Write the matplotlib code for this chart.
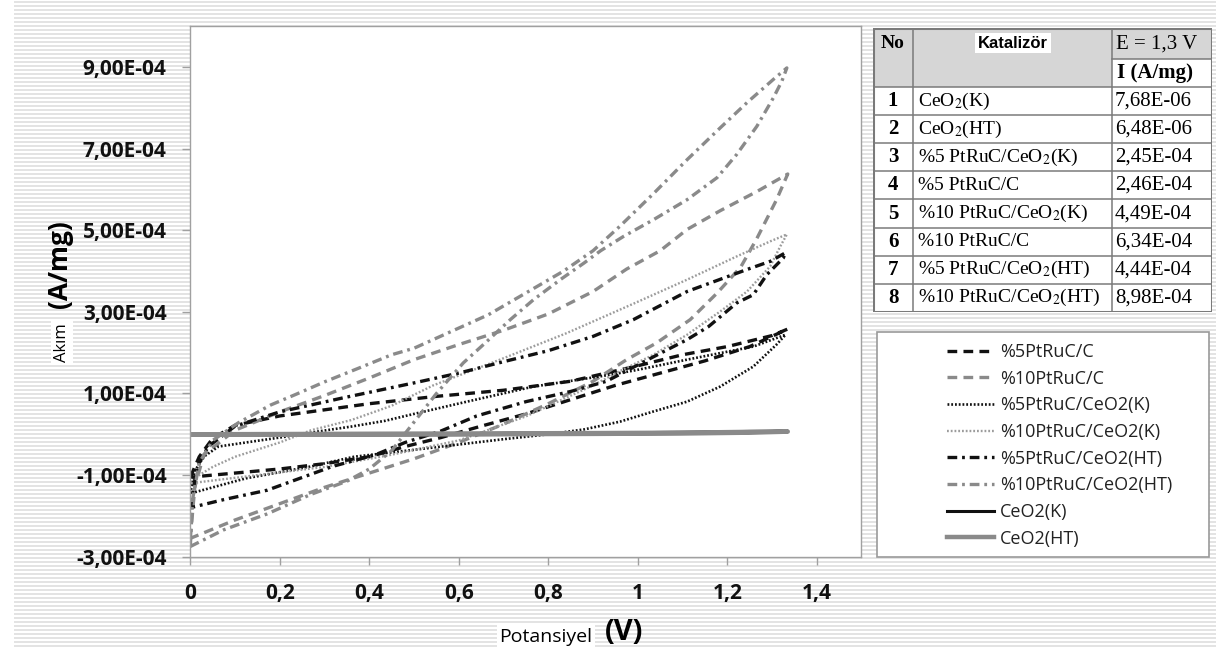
import numpy as np
import matplotlib.pyplot as plt
from matplotlib.patches import Rectangle
from matplotlib.lines import Line2D

plt.rcParams['lines.scale_dashes'] = False
plt.rcParams['mathtext.fontset'] = 'stix'

SANS = ['Open Sans', 'DejaVu Sans']
SERIF = ['Liberation Serif', 'DejaVu Serif']

# ---------------- data (current in 1e-4 A/mg, potential in V) ----------------
# each loop: forward branch (x_up, y_up) and return branch (x_dn, y_dn)
c5_x_up = [0, 0.02, 0.05, 0.1, 0.2, 0.3, 0.4, 0.55, 0.7, 0.85, 1.0, 1.1, 1.2, 1.3, 1.335]
c5_y_up = [-1.05, -0.55, -0.1, 0.22, 0.45, 0.6, 0.75, 0.93, 1.08, 1.3, 1.68, 1.95, 2.15, 2.42, 2.58]
c5_x_dn = [0, 0.1, 0.2, 0.3, 0.4, 0.48, 0.56, 0.65, 0.75, 0.85, 0.95, 1.05, 1.15, 1.25, 1.335]
c5_y_dn = [-1.05, -0.95, -0.85, -0.72, -0.55, -0.3, -0.08, 0.2, 0.5, 0.85, 1.2, 1.5, 1.8, 2.15, 2.58]

c10_x_up = [0, 0.01, 0.03, 0.1, 0.2, 0.3, 0.4, 0.5, 0.6, 0.7, 0.8, 0.9, 0.975, 1.05, 1.11, 1.184, 1.266, 1.335]
c10_y_up = [-2.55, -1.3, -0.5, 0.1, 0.55, 0.95, 1.38, 1.83, 2.2, 2.55, 2.95, 3.5, 4.05, 4.5, 5.02, 5.48, 5.95, 6.38]
c10_x_dn = [0, 0.1, 0.2, 0.3, 0.4, 0.5, 0.6, 0.7, 0.8, 0.9, 0.975, 1.042, 1.117, 1.177, 1.23, 1.266, 1.31, 1.335]
c10_y_dn = [-2.55, -2.1, -1.7, -1.3, -0.95, -0.6, -0.2, 0.25, 0.75, 1.3, 1.83, 2.24, 2.81, 3.46, 4.1, 4.8, 5.75, 6.38]

k5_x_up = [0, 0.01, 0.03, 0.063, 0.137, 0.212, 0.286, 0.36, 0.435, 0.5, 0.618, 0.767, 0.916, 0.99, 1.035, 1.11, 1.184, 1.258, 1.33]
k5_y_up = [-1.45, -0.9, -0.55, -0.3, -0.18, -0.06, 0.07, 0.19, 0.33, 0.5, 0.8, 1.17, 1.42, 1.56, 1.66, 1.83, 1.99, 2.15, 2.44]
k5_x_dn = [0, 0.124, 0.269, 0.366, 0.5, 0.6, 0.7, 0.8, 0.88, 0.96, 1.035, 1.11, 1.184, 1.258, 1.31, 1.33]
k5_y_dn = [-1.45, -1.08, -0.79, -0.55, -0.38, -0.25, -0.12, 0.0, 0.12, 0.31, 0.56, 0.8, 1.17, 1.66, 2.2, 2.44]

k10_x_up = [0, 0.02, 0.05, 0.1, 0.2, 0.27, 0.36, 0.45, 0.543, 0.692, 0.841, 0.99, 1.11, 1.221, 1.296, 1.333]
k10_y_up = [-1.2, -1.0, -0.8, -0.55, -0.2, 0.1, 0.35, 0.7, 1.2, 1.83, 2.48, 3.2, 3.79, 4.36, 4.73, 4.9]
k10_x_dn = [0, 0.15, 0.3, 0.45, 0.6, 0.75, 0.9, 0.96, 1.035, 1.11, 1.184, 1.244, 1.296, 1.318, 1.333]
k10_y_dn = [-1.2, -1.0, -0.8, -0.5, -0.15, 0.44, 1.2, 1.55, 1.95, 2.44, 3.01, 3.5, 4.12, 4.6, 4.9]

h5_x_up = [0, 0.015, 0.04, 0.1, 0.2, 0.34, 0.5, 0.6, 0.7, 0.8, 0.9, 0.99, 1.11, 1.244, 1.296, 1.33]
h5_y_up = [-1.8, -0.8, -0.3, 0.2, 0.55, 0.89, 1.26, 1.5, 1.78, 2.05, 2.4, 2.81, 3.5, 4.04, 4.24, 4.45]
h5_x_dn = [0, 0.075, 0.172, 0.317, 0.414, 0.48, 0.56, 0.64, 0.75, 0.85, 0.93, 1.035, 1.11, 1.158, 1.221, 1.258, 1.288, 1.325, 1.33]
h5_y_dn = [-1.8, -1.6, -1.37, -0.79, -0.5, -0.2, 0.08, 0.45, 0.8, 1.05, 1.3, 1.9, 2.32, 2.64, 3.22, 3.42, 3.91, 4.32, 4.45]

h10_x_up = [0, 0.005, 0.02, 0.05, 0.107, 0.18, 0.234, 0.301, 0.376, 0.45, 0.5, 0.666, 0.834, 0.9, 0.96, 1.035, 1.11, 1.184, 1.244, 1.303, 1.333]
h10_y_up = [-2.75, -1.6, -0.7, -0.15, 0.28, 0.72, 0.97, 1.29, 1.62, 1.95, 2.11, 2.93, 4.0, 4.5, 5.1, 5.9, 6.73, 7.51, 8.13, 8.7, 8.98]
h10_x_dn = [0, 0.075, 0.172, 0.27, 0.35, 0.4, 0.45, 0.5, 0.55, 0.61, 0.663, 0.715, 0.767, 0.828, 0.88, 0.917, 0.968, 1.035, 1.11, 1.177, 1.221, 1.266, 1.303, 1.322, 1.333]
h10_y_dn = [-2.75, -2.34, -1.95, -1.47, -1.15, -0.85, -0.4, 0.3, 1.0, 1.75, 2.28, 2.81, 3.3, 3.8, 4.2, 4.5, 4.85, 5.26, 5.75, 6.29, 6.86, 7.55, 8.25, 8.66, 8.98]

ck_x = [0, 0.3, 0.6, 0.9, 1.1, 1.25, 1.335]
ck_y_up = [-0.02, 0.0, 0.01, 0.03, 0.05, 0.07, 0.08]
ck_y_dn = [-0.02, -0.02, -0.01, 0.0, 0.02, 0.05, 0.08]
cht_y_up = [0.0, 0.01, 0.02, 0.03, 0.04, 0.06, 0.065]
cht_y_dn = [0.0, -0.01, 0.0, 0.01, 0.02, 0.04, 0.065]

labels = ['%5PtRuC/C', '%10PtRuC/C', '%5PtRuC/CeO2(K)', '%10PtRuC/CeO2(K)',
          '%5PtRuC/CeO2(HT)', '%10PtRuC/CeO2(HT)', 'CeO2(K)', 'CeO2(HT)']

tbl_no = ['1', '2', '3', '4', '5', '6', '7', '8']
tbl_name = [r'CeO$_2$(K)', r'CeO$_2$(HT)', r'%5 PtRuC/CeO$_2$(K)', '%5 PtRuC/C',
            r'%10 PtRuC/CeO$_2$(K)', '%10 PtRuC/C', r'%5 PtRuC/CeO$_2$(HT)',
            r'%10 PtRuC/CeO$_2$(HT)']
tbl_val = ['7,68E-06', '6,48E-06', '2,45E-04', '2,46E-04',
           '4,49E-04', '6,34E-04', '4,44E-04', '8,98E-04']

xticks = [0, 0.2, 0.4, 0.6, 0.8, 1.0, 1.2, 1.4]
yticks = [-3e-4, -1e-4, 1e-4, 3e-4, 5e-4, 7e-4, 9e-4]

# ---------------- styles ----------------
BLK = '#111111'
GRY = '#8a8a8a'
GRY2 = '#9c9c9c'
DASH = (0, (7, 4.5))
DOT = (0, (1.3, 1.4))
DASHDOT = (0, (7, 3.5, 2, 3.5))
styles = [
    dict(color=BLK, lw=2.4, ls=DASH),
    dict(color=GRY, lw=2.4, ls=DASH),
    dict(color=BLK, lw=1.9, ls=DOT),
    dict(color=GRY2, lw=1.7, ls=DOT),
    dict(color=BLK, lw=2.4, ls=DASHDOT),
    dict(color=GRY, lw=2.4, ls=DASHDOT),
    dict(color=BLK, lw=2.2, ls='-'),
    dict(color=GRY, lw=3.2, ls='-'),
]

loops = [
    (c5_x_up, c5_y_up, c5_x_dn, c5_y_dn),
    (c10_x_up, c10_y_up, c10_x_dn, c10_y_dn),
    (k5_x_up, k5_y_up, k5_x_dn, k5_y_dn),
    (k10_x_up, k10_y_up, k10_x_dn, k10_y_dn),
    (h5_x_up, h5_y_up, h5_x_dn, h5_y_dn),
    (h10_x_up, h10_y_up, h10_x_dn, h10_y_dn),
    (ck_x, ck_y_up, ck_x, ck_y_dn),
    (ck_x, cht_y_up, ck_x, cht_y_dn),
]

# ---------------- figure ----------------
W, H = 1216, 660
fig = plt.figure(figsize=(W / 100, H / 100), dpi=100)
fig.patch.set_facecolor('white')

# striped slide background
bg = fig.add_axes([0, 0, 1, 1], zorder=0)
bg.set_xlim(0, W)
bg.set_ylim(H, 0)
bg.axis('off')
bg.hlines(np.arange(2, 650, 4), 14, W, color='#e0e0e0', lw=1.3)

ax = fig.add_axes([190.3 / W, 1 - 556.7 / H, (860.7 - 190.3) / W, (556.7 - 26.3) / H], zorder=2)
ax.set_facecolor('white')

for (xu, yu, xd, yd), st in zip(loops, styles):
    xs = np.array(list(xu) + list(xd)[::-1])
    ys = np.array(list(yu) + list(yd)[::-1]) * 1e-4
    ax.plot(xs, ys, color=st['color'], lw=st['lw'], linestyle=st['ls'],
            solid_capstyle='butt', dash_capstyle='butt')

ax.set_xlim(0, 1.498)
ax.set_ylim(-3e-4, 1.0e-3)
ax.set_xticks(xticks)
ax.set_xticklabels([('%g' % v).replace('.', ',') for v in xticks])
ax.set_yticks(yticks)
ax.set_yticklabels([('%.2E' % v).replace('.', ',') for v in yticks])
for sp in ax.spines.values():
    sp.set_color('#a0a0a0')
    sp.set_linewidth(1.0)
ax.tick_params(direction='out', length=6, width=1, color='#a0a0a0')
ax.tick_params(axis='y', pad=11)
ax.tick_params(axis='x', pad=13)
for t in ax.get_xticklabels() + ax.get_yticklabels():
    t.set_fontfamily(SANS)
    t.set_fontweight('bold')
    t.set_fontsize(15)
    t.set_color('#111111')

# axis titles
fig.text(62 / W, 1 - 343 / H, 'Akım', rotation=90, ha='center', va='center',
         fontsize=12, family=SANS, zorder=3,
         bbox=dict(fc='white', ec='none', pad=2))
fig.text(60 / W, 1 - 264 / H, '(A/mg)', rotation=90, ha='center', va='center',
         fontsize=19, fontweight='bold', family=SANS, zorder=3)
fig.text(546 / W, 1 - 637 / H, 'Potansiyel', ha='center', va='center',
         fontsize=14, family=SANS, zorder=3,
         bbox=dict(fc='white', ec='none', pad=2))
fig.text(624 / W, 1 - 633 / H, '(V)', ha='center', va='center',
         fontsize=21, fontweight='bold', family=SANS, zorder=3)

# ---------------- legend ----------------
fig.patches.append(Rectangle((877 / W, 1 - 557 / H), (1209 - 877) / W, (557 - 332) / H,
                             transform=fig.transFigure, fc='white', ec='#9a9a9a',
                             lw=1.2, zorder=1))
handles = [Line2D([], [], color=st['color'], lw=st['lw'], linestyle=st['ls'],
                  dash_capstyle='butt') for st in styles]
leg = ax.legend(handles, labels, loc='upper left',
                bbox_to_anchor=(938 / W, 1 - 334 / H), bbox_transform=fig.transFigure,
                frameon=False, borderpad=0, handlelength=2.6, handletextpad=0.35,
                labelspacing=0.48, prop=dict(family=SANS, size=13))
for t in leg.get_texts():
    t.set_color('#222222')

# ---------------- table ----------------
tx0, tx1, ty0, ty1 = 873, 1212, 28, 312
tax = fig.add_axes([tx0 / W, 1 - ty1 / H, (tx1 - tx0) / W, (ty1 - ty0) / H], zorder=2)
tax.set_xlim(tx0, tx1)
tax.set_ylim(ty1, ty0)
tax.axis('off')
cols = [873, 913, 1112, 1212]
hdr = [28, 59, 87]
rowh = (ty1 - hdr[2]) / len(tbl_no)
edge = '#7a7a7a'
tax.add_patch(Rectangle((tx0, ty0), tx1 - tx0, ty1 - ty0, fc='white', ec='none'))
tax.add_patch(Rectangle((cols[0], hdr[0]), cols[2] - cols[0], hdr[2] - hdr[0], fc='#d6d6d6', ec='none'))
tax.add_patch(Rectangle((cols[2], hdr[0]), cols[3] - cols[2], hdr[1] - hdr[0], fc='#d6d6d6', ec='none'))
# grid lines
for i in range(len(tbl_no) + 1):
    yy = hdr[2] + i * rowh
    tax.plot([tx0, tx1], [yy, yy], color=edge, lw=1.1)
tax.plot([cols[2], cols[3]], [hdr[1], hdr[1]], color=edge, lw=1.1)
for xx in cols[1:3]:
    tax.plot([xx, xx], [ty0, ty1], color=edge, lw=1.1)
tax.add_patch(Rectangle((tx0, ty0), tx1 - tx0, ty1 - ty0, fc='none', ec=edge, lw=2.2))

tax.text(893, 43, 'No', ha='center', va='center', fontsize=14, fontweight='bold', family=SERIF)
tax.text(1013, 43, 'Katalizör', ha='center', va='center', fontsize=12, fontweight='bold',
         family=['Liberation Sans', 'DejaVu Sans'],
         bbox=dict(fc='white', ec='none', pad=2))
tax.text(1116, 44, 'E = 1,3 V', ha='left', va='center', fontsize=15, family=SERIF)
tax.text(1117, 73, 'I (A/mg)', ha='left', va='center', fontsize=15, fontweight='bold', family=SERIF)
for i, (n, nm, v) in enumerate(zip(tbl_no, tbl_name, tbl_val)):
    yc = hdr[2] + (i + 0.5) * rowh
    tax.text(893, yc, n, ha='center', va='center', fontsize=15, fontweight='bold', family=SERIF)
    tax.text(918, yc, nm, ha='left', va='center', fontsize=14, family=SERIF)
    tax.text(1115, yc, v, ha='left', va='center', fontsize=15, family=SERIF)

fig.savefig('out.png', dpi=100)
